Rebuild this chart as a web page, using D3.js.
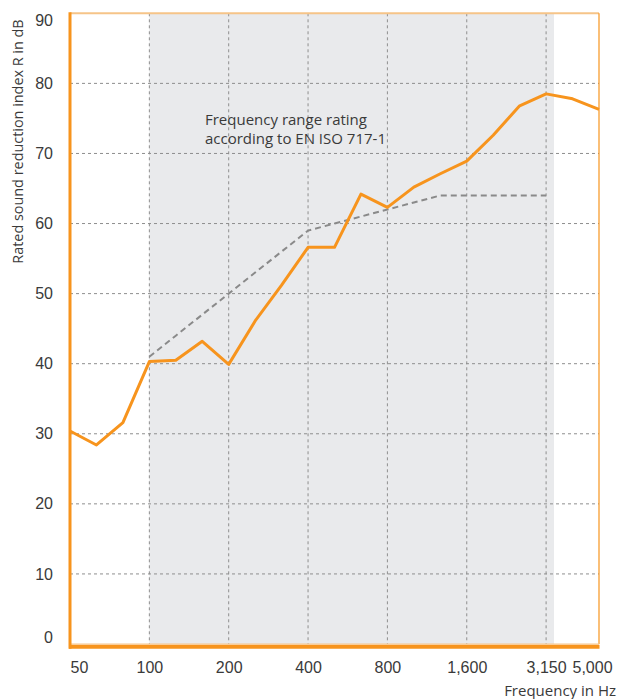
<!DOCTYPE html>
<html lang="en">
<head>
<meta charset="UTF-8">
<title>sound reduction index</title>
<style>
  * { margin: 0; padding: 0; }
  body { background: #fff; }
  svg { display: block; font-family: "Open Sans", sans-serif; }
</style>
</head>
<body>
<script src="https://cdn.jsdelivr.net/npm/d3@7/dist/d3.min.js"></script>
<script>
// third-octave bands
var freqs = [50, 63, 80, 100, 125, 160, 200, 250, 315, 400, 500, 630, 800, 1000, 1250, 1600, 2000, 2500, 3150, 4000, 5000];
// measured R in dB
var measured = [30.4, 28.4, 31.6, 40.3, 40.5, 43.2, 39.9, 46.1, 51.2, 56.6, 56.6, 64.2, 62.3, 65.2, 67.1, 68.9, 72.6, 76.8, 78.5, 77.8, 76.3];
// shifted reference curve EN ISO 717-1 (100 - 3150 Hz)
var refFreqs = [100, 125, 160, 200, 250, 315, 400, 500, 630, 800, 1000, 1250, 1600, 2000, 2500, 3150];
var refValues = [41, 44, 47, 50, 53, 56, 59, 60, 61, 62, 63, 64, 64, 64, 64, 64];
var xTicks = [50, 100, 200, 400, 800, 1600, 3150, 5000];
var xTickLabels = ['50', '100', '200', '400', '800', '1,600', '3,150', '5,000'];
var yTicks = [0, 10, 20, 30, 40, 50, 60, 70, 80, 90];

var W = 619, H = 699;
// plot area (note: "top" is reserved on window, so p-prefix)
var pLeft = 70, pRight = 599, pTop = 13.3, pBottom = 644;
var orange = '#f7941d';

var svg = d3.select('body').append('svg').attr('width', W).attr('height', H);

var x = d3.scalePoint().domain(freqs).range([pLeft, pRight]);
var y = d3.scaleLinear().domain([0, 90]).range([pBottom, pTop]);

// shaded rating range
svg.append('rect')
  .attr('x', x(100)).attr('y', pTop)
  .attr('width', x(3150) + 0.3 * x.step() - x(100))
  .attr('height', pBottom - pTop)
  .style('fill', '#e9eaec');

// grid
svg.append('g').selectAll('line')
  .data(yTicks.filter(function (d) { return d > 0 && d < 90; }))
  .enter().append('line')
  .attr('x1', pLeft).attr('x2', pRight)
  .attr('y1', function (d) { return y(d); }).attr('y2', function (d) { return y(d); })
  .style('stroke', '#8e8e8e').style('stroke-width', 1).style('stroke-dasharray', '3,3');

svg.append('g').selectAll('line')
  .data(xTicks.slice(1, -1))
  .enter().append('line')
  .attr('x1', function (d) { return x(d); }).attr('x2', function (d) { return x(d); })
  .attr('y1', pTop).attr('y2', pBottom)
  .style('stroke', '#8e8e8e').style('stroke-width', 1).style('stroke-dasharray', '3,3');

// reference curve
var line = d3.line()
  .x(function (d) { return x(d[0]); })
  .y(function (d) { return y(d[1]); });

svg.append('path')
  .datum(d3.zip(refFreqs, refValues))
  .attr('d', line)
  .style('fill', 'none').style('stroke', '#8a8a8a')
  .style('stroke-width', 2).style('stroke-dasharray', '6,4');

// measured curve
svg.append('path')
  .datum(d3.zip(freqs, measured))
  .attr('d', line)
  .style('fill', 'none').style('stroke', orange)
  .style('stroke-width', 3).style('stroke-linejoin', 'round');

// frame
svg.append('line').attr('x1', pLeft).attr('x2', pRight).attr('y1', pTop).attr('y2', pTop)
  .style('stroke', '#f6c488').style('stroke-width', 2);
svg.append('line').attr('x1', pRight).attr('x2', pRight).attr('y1', pTop).attr('y2', pBottom)
  .style('stroke', orange).style('stroke-width', 1.2);
svg.append('line').attr('x1', pLeft).attr('x2', pRight).attr('y1', pBottom).attr('y2', pBottom)
  .style('stroke', '#f6c488').style('stroke-width', 1);
svg.append('line').attr('x1', pLeft - 1).attr('x2', pRight + 0.5).attr('y1', pBottom + 2.8).attr('y2', pBottom + 2.8)
  .style('stroke', orange).style('stroke-width', 4);
svg.append('line').attr('x1', pLeft).attr('x2', pLeft).attr('y1', pTop - 1).attr('y2', pBottom + 4.8)
  .style('stroke', orange).style('stroke-width', 3);

// axes
var xAxis = svg.append('g')
  .attr('transform', 'translate(0,' + pBottom + ')')
  .call(d3.axisBottom(x).tickValues(xTicks).tickSize(0)
    .tickFormat(function (d, i) { return xTickLabels[i]; }));
xAxis.select('.domain').remove();
xAxis.selectAll('text')
  .attr('y', 18)
  .style('font-size', '16px').style('fill', '#3a3a3a')
  .attr('dx', function (d, i) { return i === 0 ? 9 : (i === xTicks.length - 1 ? -7 : 0); });

var yAxis = svg.append('g')
  .attr('transform', 'translate(' + pLeft + ',0)')
  .call(d3.axisLeft(y).tickValues(yTicks).tickSize(0).tickPadding(17));
yAxis.select('.domain').remove();
yAxis.selectAll('text')
  .style('font-size', '16px').style('fill', '#3a3a3a')
  .attr('y', function (d) { return d === 90 ? 7 : (d === 0 ? -6.5 : 0); });

// titles
svg.append('text')
  .attr('transform', 'translate(23,141.5) rotate(-90)')
  .attr('text-anchor', 'middle')
  .style('font-size', '14.4px').style('fill', '#3a3a3a')
  .text('Rated sound reduction index R in dB');

svg.append('text')
  .attr('x', 616).attr('y', 696)
  .attr('text-anchor', 'end')
  .style('font-size', '15px').style('fill', '#3a3a3a')
  .text('Frequency in Hz');

var note = svg.append('text')
  .style('font-size', '15px').style('fill', '#3a3a3a');
note.append('tspan').attr('x', 205).attr('y', 125).text('Frequency range rating');
note.append('tspan').attr('x', 205).attr('y', 144).text('according to EN ISO 717-1');
</script>
</body>
</html>
